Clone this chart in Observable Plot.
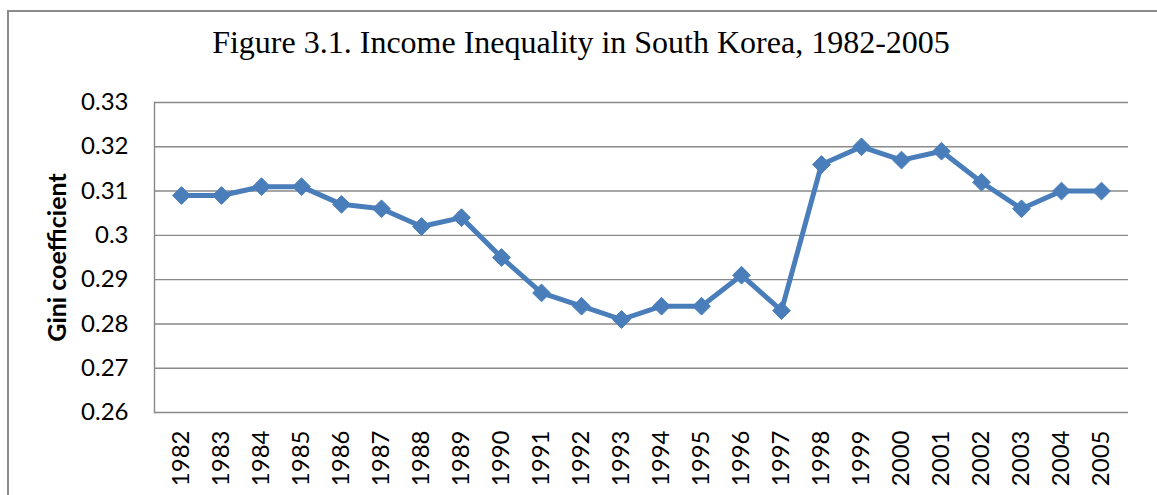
<!DOCTYPE html>
<html>
<head>
<meta charset="utf-8">
<script src="https://cdn.jsdelivr.net/npm/d3@7"></script>
<script src="https://cdn.jsdelivr.net/npm/@observablehq/plot@0.6"></script>
<style>
  html, body { margin: 0; padding: 0; background: #fff; }
  #wrap { position: relative; width: 1157px; height: 495px; overflow: hidden; background: #fff; }
  #border { position: absolute; left: 7px; top: 10px; width: 1200px; height: 600px;
            border-left: 2px solid #8c8c8c; border-top: 2px solid #8c8c8c; }
  #title { position: absolute; left: 0; width: 1162px; top: 24px; text-align: center;
           font-family: "Liberation Serif", "Times New Roman", serif; font-size: 32px; color: #000; }
  #chart { position: absolute; left: 0; top: 80px; }
</style>
</head>
<body>
<div id="wrap">
  <div id="border"></div>
  <div id="title">Figure 3.1. Income Inequality in South Korea, 1982-2005</div>
  <div id="chart"></div>
</div>
<script>
const years = ["1982","1983","1984","1985","1986","1987","1988","1989","1990","1991","1992","1993",
               "1994","1995","1996","1997","1998","1999","2000","2001","2002","2003","2004","2005"];
const gini = [0.309,0.309,0.311,0.311,0.307,0.306,0.302,0.304,0.295,0.287,0.284,0.281,
              0.284,0.284,0.291,0.283,0.316,0.320,0.317,0.319,0.312,0.306,0.310,0.310];
const yTicks = [0.26,0.27,0.28,0.29,0.30,0.31,0.32,0.33];
const yLabel = "Gini coefficient";

const data = years.map((y, i) => ({year: y, gini: gini[i]}));
const blue = "#4A7EBB";
const font = "Lato, 'Open Sans', sans-serif";

const chart = Plot.plot({
  width: 1157,
  height: 415,
  marginTop: 22,
  marginBottom: 83,
  marginLeft: 154,
  marginRight: 29,
  style: {fontFamily: font, fontSize: "24px", color: "#000", background: "transparent"},
  x: {type: "point", domain: years, padding: 0.5},
  y: {domain: [0.26, 0.33]},
  marks: [
    Plot.gridY(yTicks, {stroke: "#898989", strokeOpacity: 1, strokeWidth: 1.4}),
    Plot.frame({anchor: "left", stroke: "#898989", strokeWidth: 1.4}),
    Plot.axisY(yTicks, {tickSize: 0, tickPadding: 26, label: null,
      tickFormat: d => String(+d.toFixed(2)), fontSize: 24, fill: "#000"}),
    Plot.axisX({tickSize: 0, tickPadding: 18, tickRotate: -90, label: null, fontSize: 24, fill: "#000"}),
    Plot.text([yLabel], {frameAnchor: "left", dx: -97, rotate: -90, text: d => d, textAnchor: "middle",
      fontWeight: "bold", fontSize: 25, fill: "#000"}),
    Plot.line(data, {x: "year", y: "gini", stroke: blue, strokeWidth: 5, strokeLinejoin: "round"}),
    Plot.dot(data, {x: "year", y: "gini", symbol: "diamond2", r: 8, fill: blue, stroke: blue, strokeWidth: 1})
  ]
});
document.getElementById("chart").appendChild(chart);
</script>
</body>
</html>
